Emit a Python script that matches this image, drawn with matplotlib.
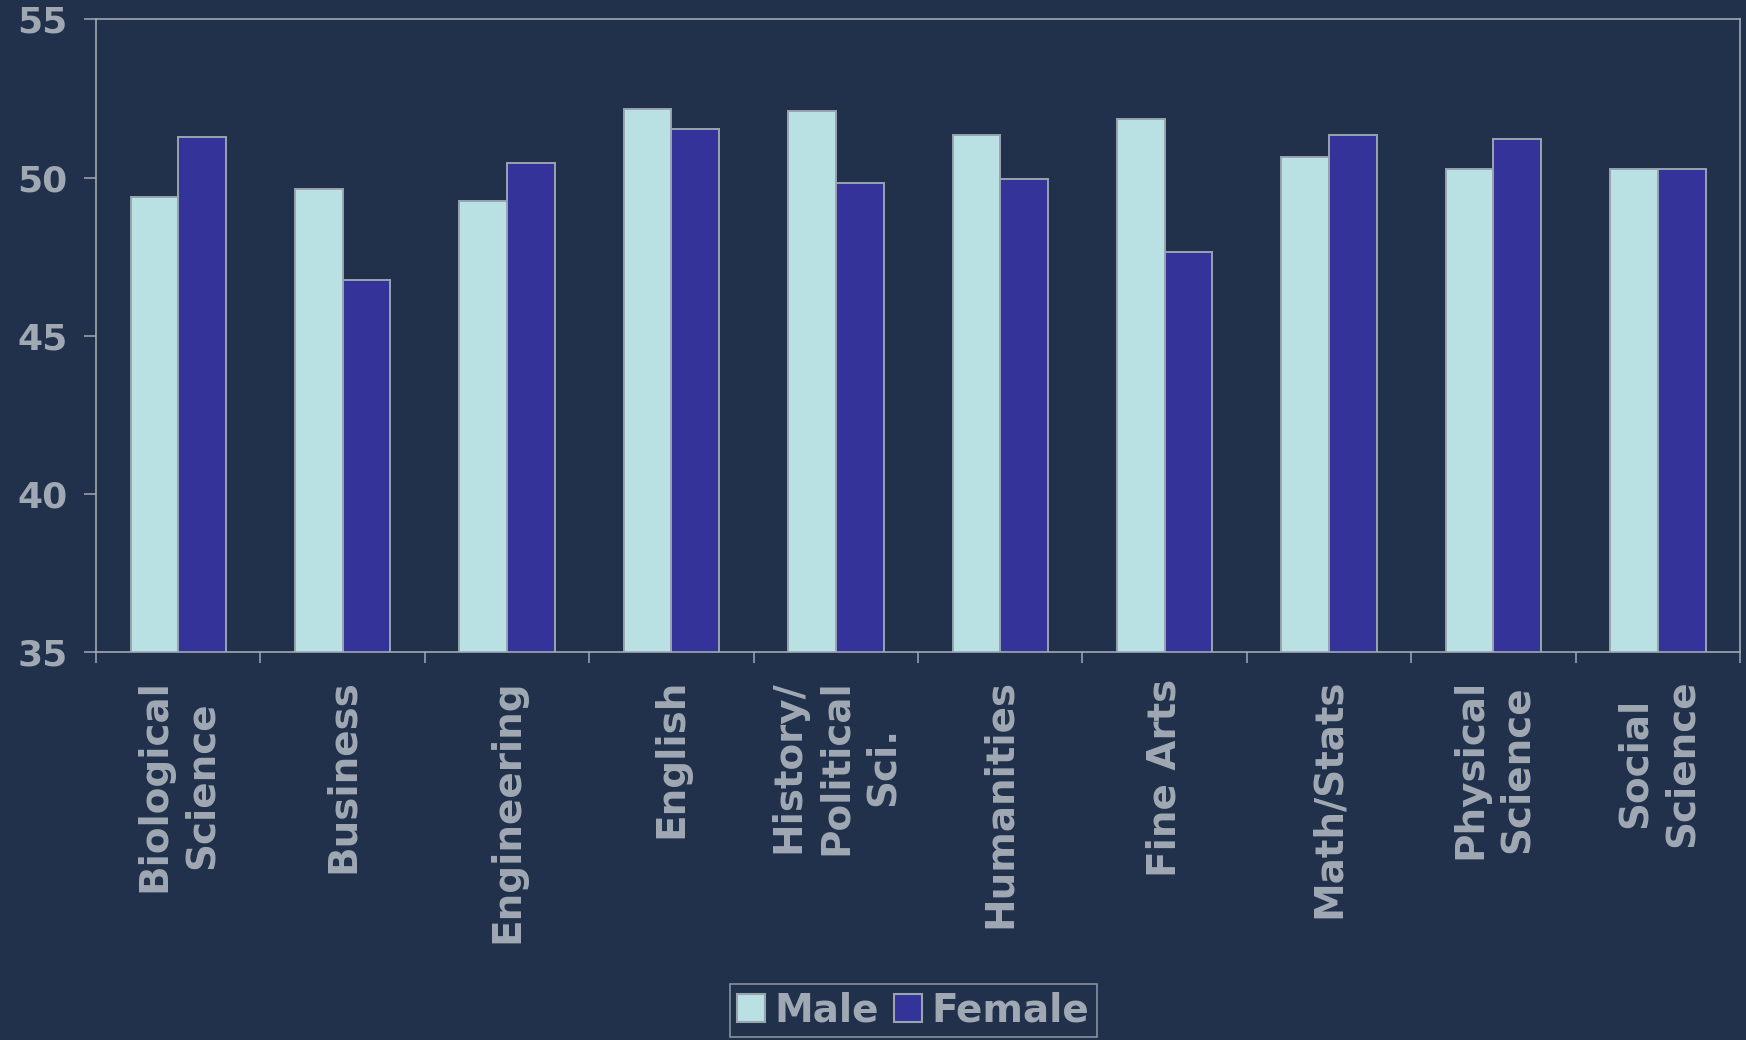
import numpy as np
import matplotlib
matplotlib.use("Agg")
import matplotlib.pyplot as plt
from matplotlib.patches import Patch

# values
categories = ["Biological\nScience", "Business", "Engineering", "English",
              "History/\nPolitical\nSci.", "Humanities", "Fine Arts",
              "Math/Stats", "Physical\nScience", "Social\nScience"]
male = [49.4, 49.64, 49.27, 52.17, 52.1, 51.36, 51.85, 50.65, 50.28, 50.27]
female = [51.29, 46.77, 50.47, 51.53, 49.84, 49.96, 47.64, 51.35, 51.21, 50.27]
yticks = [35, 40, 45, 50, 55]

bg = '#21304b'
grey = '#a0a9b3'
edge = '#9aa4ae'
c_male = '#b9e0e3'
c_female = '#343399'

fig = plt.figure(figsize=(17.46, 10.40), dpi=100, facecolor=bg)
ax = fig.add_axes([0.055, 0.3726, 0.9416, 0.6088])
ax.set_facecolor(bg)

x = np.arange(len(categories))
w = 0.29
ax.bar(x - w/2, male, w, color=c_male, edgecolor=edge, linewidth=1.4, label='Male')
ax.bar(x + w/2, female, w, color=c_female, edgecolor=edge, linewidth=1.4, label='Female')

ax.set_xlim(-0.5, len(categories) - 0.5)
ax.set_ylim(35, 55)
ax.set_yticks(yticks)
ax.set_yticklabels([str(t) for t in yticks], fontsize=26, fontweight='bold', color=grey)
ax.tick_params(axis='y', length=8.5, width=1.1, color=grey, pad=12)

ax.set_xticks(x)
ax.set_xticklabels(categories, rotation=90, fontsize=28, fontweight='bold',
                   color=grey, va='top', ha='center', multialignment='center',
                   linespacing=1.3)
ax.tick_params(axis='x', which='major', length=0, pad=19)
ax.set_xticks(np.arange(-0.5, len(categories)), minor=True)
ax.tick_params(axis='x', which='minor', length=8, width=1.1, color=grey)

for s in ax.spines.values():
    s.set_color(grey)
    s.set_linewidth(1.2)

handles = [Patch(facecolor=c_male, edgecolor=edge, linewidth=1.5, label='Male'),
           Patch(facecolor=c_female, edgecolor=edge, linewidth=1.5, label='Female')]
leg = fig.legend(handles=handles, loc='upper center', bbox_to_anchor=(0.523, 0.054),
                 ncol=2, frameon=True, fancybox=False,
                 prop={'weight': 'bold', 'size': 28},
                 handlelength=0.7, handleheight=0.7, handletextpad=0.25,
                 columnspacing=0.4, borderpad=0.2, borderaxespad=0)
leg.get_frame().set_facecolor('none')
leg.get_frame().set_edgecolor(grey)
leg.get_frame().set_linewidth(1.2)
for t in leg.get_texts():
    t.set_color(grey)

fig.savefig('out.png', dpi=100, facecolor=bg)
